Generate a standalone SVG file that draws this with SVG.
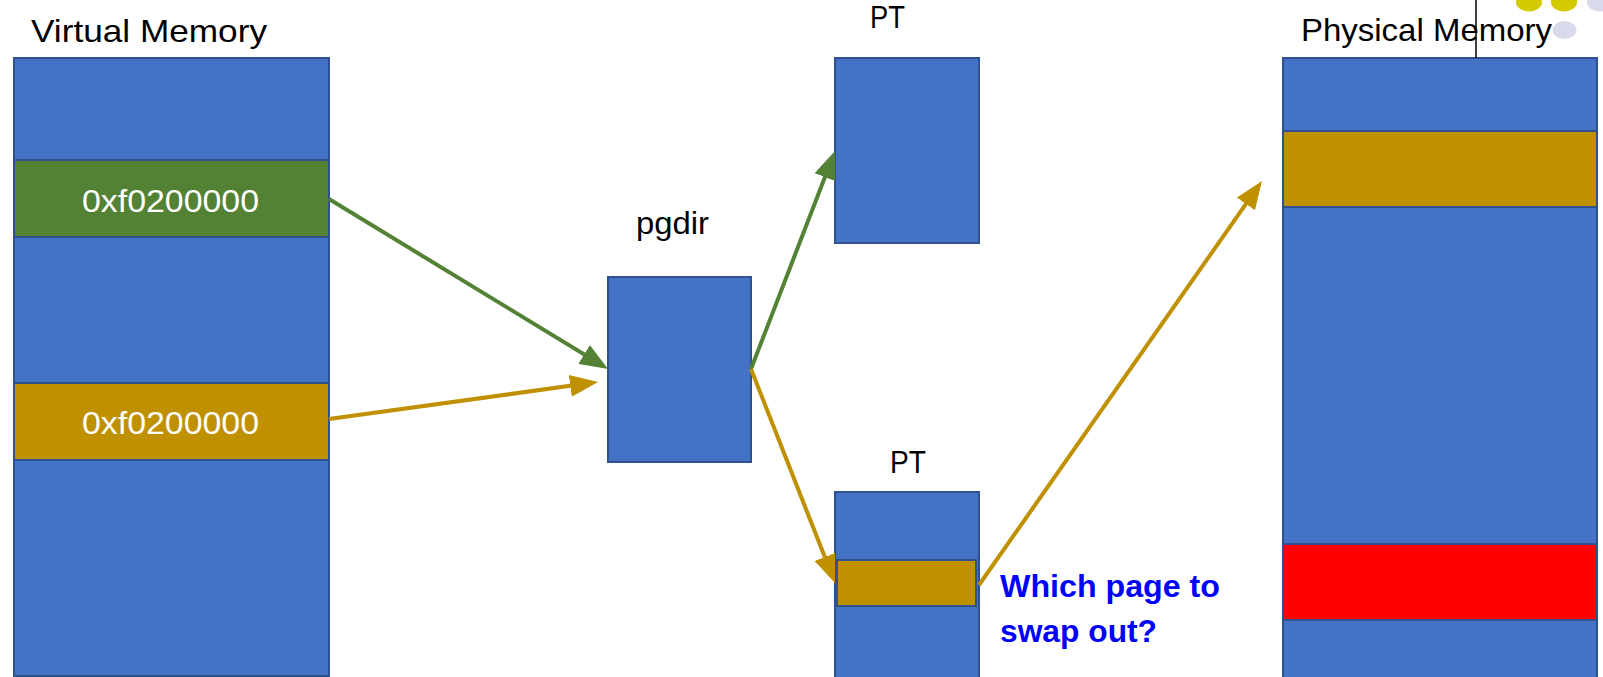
<svg xmlns="http://www.w3.org/2000/svg" width="1603" height="677" viewBox="0 0 1603 677">
  <defs>
    <style>
      .blk { fill: #4472C4; stroke: #2F528F; stroke-width: 2; }
      .grn { fill: #548235; stroke: #2F528F; stroke-width: 2; }
      .gld { fill: #BF9000; stroke: #2F528F; stroke-width: 2; }
      .red { fill: #FF0000; stroke: #2F528F; stroke-width: 2; }
      .lbl { font-family: "Liberation Sans", Arial, sans-serif; font-size: 32px; fill: #000000; }
      .hex { font-family: "Liberation Sans", Arial, sans-serif; font-size: 32px; fill: #FFFFFF; }
      .q { font-family: "Liberation Sans", Arial, sans-serif; font-size: 31px; font-weight: bold; fill: #0000FF; }
      .cg { stroke: #548235; stroke-width: 4; fill: none; }
      .cy { stroke: #BF9000; stroke-width: 4; fill: none; }
    </style>
    <marker id="ahG" viewBox="0 0 28 22" markerWidth="28" markerHeight="22" refX="20" refY="11" orient="auto" markerUnits="userSpaceOnUse">
      <path d="M0,0 L28,11 L0,22 z" fill="#548235"/>
    </marker>
    <marker id="ahY" viewBox="0 0 28 22" markerWidth="28" markerHeight="22" refX="20" refY="11" orient="auto" markerUnits="userSpaceOnUse">
      <path d="M0,0 L28,11 L0,22 z" fill="#BF9000"/>
    </marker>
  </defs>

  <rect x="0" y="0" width="1603" height="677" fill="#FFFFFF"/>

  <!-- decoration top right -->
  <g id="decor">
    <ellipse cx="1529" cy="2" rx="13" ry="9.5" fill="#D4CC00"/>
    <ellipse cx="1564" cy="2" rx="13" ry="9.5" fill="#D4CC00"/>
    <ellipse cx="1600" cy="2" rx="13" ry="9.5" fill="#D9D9EC"/>
    <ellipse cx="1564.5" cy="30" rx="12" ry="9" fill="#D9D9EC"/>
  </g>

  <g id="virtual-memory">
    <text class="lbl" x="31" y="42" textLength="236" lengthAdjust="spacingAndGlyphs">Virtual Memory</text>
    <rect class="blk" x="14" y="58" width="315" height="618"/>
    <rect class="grn" x="14" y="160" width="315" height="77"/>
    <text class="hex" x="82" y="212" textLength="177" lengthAdjust="spacingAndGlyphs">0xf0200000</text>
    <rect class="gld" x="14" y="383" width="315" height="77"/>
    <text class="hex" x="82" y="434" textLength="177" lengthAdjust="spacingAndGlyphs">0xf0200000</text>
  </g>

  <g id="pgdir">
    <text class="lbl" x="636" y="234" textLength="73" lengthAdjust="spacingAndGlyphs">pgdir</text>
    <rect class="blk" x="608" y="277" width="143" height="185"/>
  </g>

  <g id="pt-top">
    <text class="lbl" x="870" y="28" textLength="35" lengthAdjust="spacingAndGlyphs">PT</text>
    <rect class="blk" x="835" y="58" width="144" height="185"/>
  </g>

  <g id="pt-bottom">
    <text class="lbl" x="890" y="473" textLength="36" lengthAdjust="spacingAndGlyphs">PT</text>
    <rect class="blk" x="835" y="492" width="144" height="190"/>
    <rect class="gld" x="837" y="560" width="139" height="46"/>
  </g>

  <g id="question">
    <text class="q" x="1000" y="597" textLength="220" lengthAdjust="spacingAndGlyphs">Which page to</text>
    <text class="q" x="1000" y="642" textLength="157" lengthAdjust="spacingAndGlyphs">swap out?</text>
  </g>

  <g id="physical-memory">
    <text class="lbl" x="1301" y="41" textLength="251" lengthAdjust="spacingAndGlyphs">Physical Memory</text>
    <rect class="blk" x="1283" y="58" width="314" height="624"/>
    <rect class="gld" x="1283" y="131" width="314" height="76"/>
    <rect class="red" x="1283" y="544" width="314" height="76"/>
    <line x1="1476" y1="0" x2="1476" y2="58" stroke="#000000" stroke-width="1.5"/>
  </g>

  <g id="connectors">
    <line class="cg" x1="329" y1="199" x2="601.2" y2="364.8" marker-end="url(#ahG)"/>
    <line class="cy" x1="329" y1="419" x2="590.1" y2="383.1" marker-end="url(#ahY)"/>
    <line class="cg" x1="751" y1="369" x2="832.1" y2="158.5" marker-end="url(#ahG)"/>
    <line class="cy" x1="751" y1="369" x2="832.1" y2="575.6" marker-end="url(#ahY)"/>
    <line class="cy" x1="979" y1="585" x2="1257.4" y2="187.6" marker-end="url(#ahY)"/>
  </g>
</svg>
